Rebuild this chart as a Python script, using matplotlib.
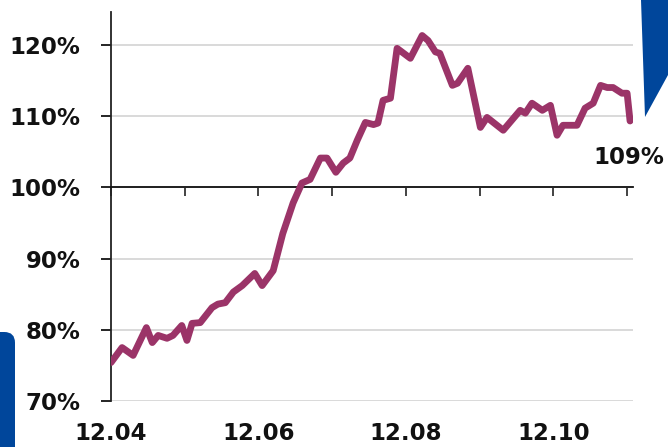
"""Relative price index since April 2012, with the latest reading marked."""

import matplotlib.pyplot as plt
from matplotlib.patches import FancyBboxPatch, Polygon
from matplotlib.ticker import FixedLocator, FuncFormatter

# position in months counted from the start of April 2012
month_pos = [
    0.00, 0.15, 0.30, 0.48, 0.56, 0.64, 0.76, 0.84, 0.96, 1.03,
    1.10, 1.21, 1.37, 1.45, 1.55, 1.66, 1.78, 1.95, 2.05, 2.20,
    2.33, 2.47, 2.59, 2.70, 2.84, 2.93, 3.05, 3.15, 3.24, 3.34,
    3.45, 3.56, 3.62, 3.69, 3.79, 3.88, 4.06, 4.22, 4.30, 4.40,
    4.46, 4.63, 4.70, 4.84, 5.01, 5.10, 5.32, 5.55, 5.62, 5.71,
    5.85, 5.96, 6.05, 6.13, 6.32, 6.43, 6.54, 6.64, 6.73, 6.81,
    6.93, 7.00, 7.04,
]
index_pct = [
    75.4, 77.5, 76.4, 80.3, 78.2, 79.2, 78.8, 79.2, 80.6, 78.5,
    80.9, 81.0, 83.1, 83.6, 83.8, 85.3, 86.2, 87.9, 86.2, 88.3,
    93.5, 97.8, 100.6, 101.1, 104.1, 104.1, 102.1, 103.4, 104.1, 106.6,
    109.1, 108.8, 109.0, 112.2, 112.5, 119.5, 118.1, 121.3, 120.6, 119.0,
    118.8, 114.3, 114.6, 116.7, 108.4, 109.8, 108.0, 110.8, 110.4, 111.8,
    110.8, 111.5, 107.3, 108.7, 108.7, 111.1, 111.8, 114.3, 114.0, 114.0,
    113.2, 113.2, 109.3,
]

month_ticks = [0, 1, 2, 3, 4, 5, 6, 7]
month_labels = ["12.04", "", "12.06", "", "12.08", "", "12.10", ""]
y_ticks = [70, 80, 90, 100, 110, 120]

line_color = "#9B3468"
brand_blue = "#00469B"
text_color = "#111111"
font = "DejaVu Sans"
label_size = 16.5

W, H = 668, 447
fig = plt.figure(figsize=(W / 100, H / 100), dpi=100)
ax = fig.add_axes([111 / W, 46 / H, 522 / W, 389 / H])

ax.plot(month_pos, index_pct, color=line_color, linewidth=4.9,
        solid_joinstyle="round", solid_capstyle="round", zorder=4)

ax.set_xlim(0, 7.08)
ax.set_ylim(70, 124.6)

# horizontal grid, the 100 % line is the black baseline instead
ax.set_yticks(y_ticks)
ax.yaxis.set_major_formatter(FuncFormatter(lambda v, _: f"{v:.0f}%"))
ax.grid(axis="y", color="#D9D9D9", linewidth=1.4)
ax.set_axisbelow(True)
ax.tick_params(axis="y", direction="out", length=7, width=1.2, pad=15,
               colors="black", labelcolor=text_color)

for side in ("top", "right"):
    ax.spines[side].set_visible(False)
ax.spines["left"].set_linewidth(1.3)
ax.spines["left"].set_color("#222222")

# month ticks hang from the 100 % baseline
ax.spines["bottom"].set_position(("data", 100))
ax.spines["bottom"].set_linewidth(1.3)
ax.spines["bottom"].set_color("#111111")
ax.spines["bottom"].set_zorder(3)
ax.xaxis.set_major_locator(FixedLocator(month_ticks))
ax.tick_params(axis="x", direction="out", length=6.5, width=1.2,
               labelbottom=False, colors="#222222")

# month labels along the bottom edge
sec = ax.secondary_xaxis("bottom")
sec.set_xticks(month_ticks)
sec.set_xticklabels(month_labels)
sec.spines["bottom"].set_visible(False)
sec.tick_params(axis="x", length=0, pad=15, labelcolor=text_color)

for lab in ax.get_yticklabels() + sec.get_xticklabels():
    lab.set_fontfamily(font)
    lab.set_fontweight("bold")
    lab.set_fontsize(label_size)

ax.annotate(f"{index_pct[-1]:.0f}%", xy=(month_pos[-1], index_pct[-1]),
            xytext=(-1, -36), textcoords="offset pixels",
            ha="center", va="center", fontsize=label_size, fontweight="bold",
            family=font, color=text_color)

# decorative slide shapes in the corners
fig.patches.append(Polygon(
    [(641 / W, 1), (645 / W, 1 - 117 / H), (1, 1 - 75 / H), (1, 1)],
    closed=True, transform=fig.transFigure, facecolor=brand_blue,
    edgecolor="none"))
fig.patches.append(FancyBboxPatch(
    (-20 / W, -20 / H), 35 / W, 135 / H,
    boxstyle="round,pad=0,rounding_size=0.016",
    transform=fig.transFigure, facecolor=brand_blue, edgecolor="none",
    mutation_aspect=W / H))

fig.savefig("out.png", dpi=100)
